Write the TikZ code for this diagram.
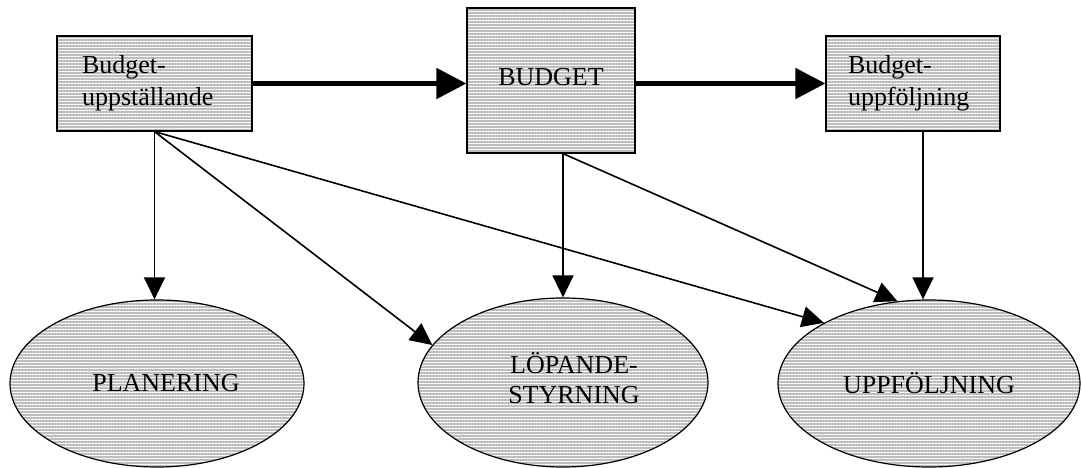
\documentclass[tikz,border=0pt]{standalone}
\usepackage{fontspec}
\setmainfont{Liberation Serif}
\usetikzlibrary{arrows.meta,patterns.meta,shapes.geometric}
\definecolor{hatchgray}{RGB}{190,190,190}
\tikzset{
  hatched/.style={preaction={fill=hatchgray},
    pattern={Lines[angle=0,distance=3pt,line width=1pt]}, pattern color=white,
    draw=black, line width=1.2pt},
  stagebox/.style={hatched, rectangle, inner ysep=0pt, align=left,
    font=\fontsize{26}{32}\selectfont},
  goal/.style={hatched, ellipse, inner sep=0pt, align=center,
    font=\fontsize{26}{30}\selectfont},
  flow/.style={line width=5pt, -{Triangle[length=30pt,width=30pt]}},
  link/.style={line width=1.6pt, -{Triangle[length=22pt,width=21pt]}}
}
\newcommand{\twolines}[3]{\raisebox{#1}{\begin{tabular}{@{}l@{}}#2\\#3\end{tabular}}}
\newcommand{\twolinesc}[3]{\raisebox{#1}{\begin{tabular}{@{}c@{}}#2\\#3\end{tabular}}}
\begin{document}
\begin{tikzpicture}[x=1pt,y=-1pt]
\useasboundingbox (0,0) rectangle (1082,468);

% budget process stages
\node[stagebox, inner xsep=25pt, text width=145pt, minimum height=95pt]
  (b1) at (154.5,83.5) {\twolines{3pt}{Budget-}{uppställande}};
\node[stagebox, inner xsep=0pt, minimum width=168pt, minimum height=145pt, align=center]
  (b2) at (551,80.5) {\raisebox{8pt}{BUDGET}};
\node[stagebox, inner xsep=22pt, text width=130pt, minimum height=95pt]
  (b3) at (913,83.5) {\twolines{3pt}{Budget-}{uppföljning}};

% purposes of the budget
\node[goal, minimum width=294pt, minimum height=167pt] (e1) at (157,383.5)
  {\hspace*{18pt}\raisebox{-3pt}{PLANERING}};
\node[goal, minimum width=290pt, minimum height=169pt] (e2) at (563,382.5)
  {\hspace*{22pt}\twolinesc{-10pt}{LÖPANDE-}{STYRNING}};
\node[goal, minimum width=302pt, minimum height=167pt] (e3) at (929,383.5)
  {\raisebox{-3pt}{UPPFÖLJNING}};

% main flow between stages
\draw[flow] (b1.east) -- (b2.west |- b1.east);
\draw[flow] (b2.east |- b3.west) -- (b3.west);

% connections from stages to purposes
\coordinate (s1) at (b1.south);
\coordinate (s2) at ([xshift=12pt]b2.south);
\coordinate (s3) at ([xshift=10pt]b3.south);

\draw[link] (s1) -- (s1 |- e1.north);
\draw[link] (s1) -- (e2.164);
\draw[link] (s1) -- (e3.150);
\draw[link] (s2) -- (s2 |- e2.north);
\draw[link] (s2) -- (e3.111);
\draw[link] (s3) -- (s3 |- e3.north);
\end{tikzpicture}
\end{document}
